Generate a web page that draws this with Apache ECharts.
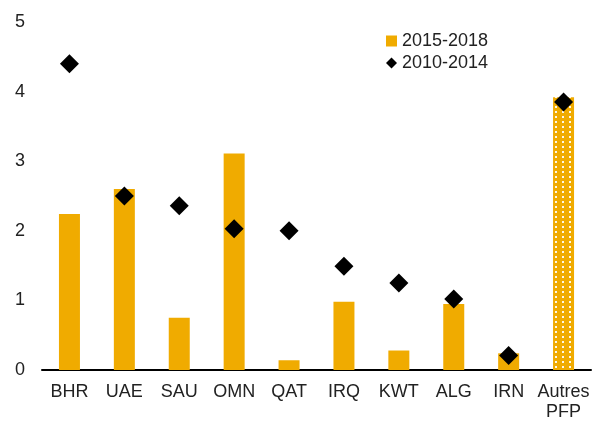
<!DOCTYPE html>
<html>
<head>
<meta charset="utf-8">
<script src="https://cdn.jsdelivr.net/npm/echarts@6/dist/echarts.min.js"></script>
<style>
  html, body { margin: 0; padding: 0; background: #fff; }
  #main { width: 598px; height: 422px; }
</style>
</head>
<body>
<div id="main"></div>
<script>
// catégories et valeurs
var categories = ['BHR', 'UAE', 'SAU', 'OMN', 'QAT', 'IRQ', 'KWT', 'ALG', 'IRN', 'Autres\nPFP'];
var values20152018 = [2.24, 2.6, 0.75, 3.11, 0.14, 0.98, 0.28, 0.95, 0.24, 3.92];
var values20102014 = [4.4, 2.5, 2.36, 2.03, 2.0, 1.49, 1.25, 1.02, 0.21, 3.85];

var barColor = '#F0AB00';

// motif pointillé pour la barre "Autres PFP"
function dotPattern() {
  var c = document.createElement('canvas');
  c.width = 7;
  c.height = 5;
  var ctx = c.getContext('2d');
  ctx.fillStyle = barColor;
  ctx.fillRect(0, 0, 7, 5);
  ctx.fillStyle = 'rgba(255,255,255,0.9)';
  ctx.fillRect(2, 1, 2, 2);
  return c;
}

var barData = values20152018.map(function (v, i) {
  if (i === values20152018.length - 1) {
    return { value: v, itemStyle: { color: { image: dotPattern(), repeat: 'repeat' } } };
  }
  return v;
});

var chart = echarts.init(document.getElementById('main'));

var option = {
  animation: false,
  textStyle: { fontFamily: 'Liberation Sans, Arial, sans-serif' },
  grid: {
    left: 42,
    right: 7,
    top: 22,
    bottom: 48
  },
  legend: {
    orient: 'vertical',
    left: 381,
    top: 27,
    itemGap: 4,
    itemWidth: 11,
    itemHeight: 11,
    textStyle: { fontSize: 18, color: '#222' },
    data: [
      { name: '2015-2018', icon: 'rect', itemStyle: { color: barColor } },
      { name: '2010-2014', icon: 'diamond' }
    ]
  },
  xAxis: {
    type: 'category',
    data: categories,
    axisLine: { lineStyle: { color: '#000', width: 2 } },
    axisTick: { show: false },
    axisLabel: { fontSize: 18, color: '#222', margin: 12, lineHeight: 20, interval: 0 }
  },
  yAxis: {
    type: 'value',
    min: 0,
    max: 5,
    interval: 1,
    axisLine: { show: false },
    axisTick: { show: false },
    splitLine: { show: false },
    axisLabel: { fontSize: 18, color: '#222', margin: 17 }
  },
  series: [
    {
      name: '2015-2018',
      type: 'bar',
      barWidth: 21,
      itemStyle: { color: barColor },
      data: barData
    },
    {
      name: '2010-2014',
      type: 'scatter',
      symbol: 'diamond',
      symbolSize: 19,
      itemStyle: { color: '#000', opacity: 1 },
      data: values20102014
    }
  ]
};

chart.setOption(option);
</script>
</body>
</html>
